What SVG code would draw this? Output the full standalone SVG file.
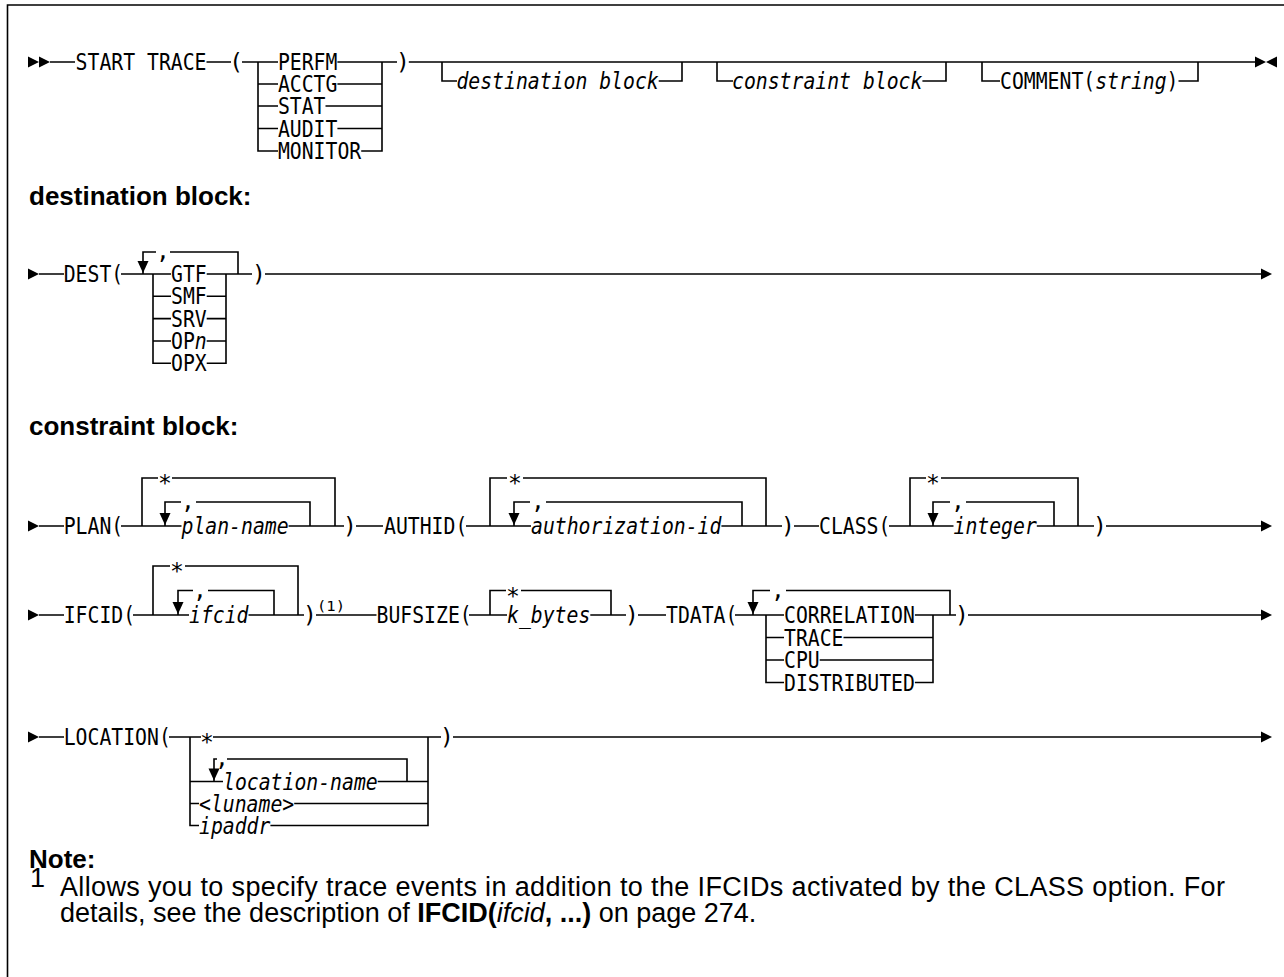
<svg xmlns="http://www.w3.org/2000/svg" xmlns:xlink="http://www.w3.org/1999/xlink" width="1284" height="977" viewBox="0 0 1284 977">
<style>
.m{font-family:"DejaVu Sans Mono","Liberation Mono",monospace;font-size:23px;fill:#000}
.i{font-style:italic}
.c{text-anchor:middle}
.ln{fill:none;stroke:#000;stroke-width:1.6}
.h{font-family:"Liberation Sans",Arial,sans-serif;font-weight:bold;font-size:26px;fill:#000}
.n{font-family:"Liberation Sans",Arial,sans-serif;font-size:27px;fill:#000}
.sup{font-family:"DejaVu Sans Mono",monospace;font-size:14px;fill:#000}
.ah{fill:#000}
</style>
<defs>
<polygon id="tr" points="0,-5.5 11,0 0,5.5"/>
<polygon id="tl" points="11,-5.5 0,0 11,5.5"/>
<polygon id="td" points="-5.5,-12 5.5,-12 0,0"/>
</defs>
<rect width="1284" height="977" fill="#fff"/>
<path class="ln" d="M1284,5 H7.5 V977" stroke="#333" stroke-width="2"/>

<g id="connectors" class="ln">
<!-- row 1 -->
<path d="M50,62 H75 M206.5,62 H231 M242,62 H278 M258,62 V151 H278 M258,84 H278 M258,106 H278 M258,128.5 H278"/>
<path d="M337.4,62 H382 V151 H361.2 M337.4,84 H382 M325.5,106 H382 M337.4,128.5 H382 M382,62 H397 M408.8,62 H1255"/>
<path d="M442,62 V81 H457 M658.7,81 H682 V62 M717,62 V81 H733 M922.4,81 H946 V62 M982,62 V81 H1000 M1178.5,81 H1198 V62"/>
<!-- dest -->
<path d="M39,274 H64 M121,274 H171 M143,274 V252 H156 M170,252 H238 V274 M153,274 V363.3 H171 M153,296.3 H171 M153,318.6 H171 M153,341 H171"/>
<path d="M206.7,274 H252 M226,274 V363.3 H206.7 M206.7,296.3 H226 M206.7,318.6 H226 M206.7,341 H226 M265,274 H1261"/>
<!-- plan -->
<path d="M39,526 H64 M121,526 H181.5 M142,526 V478 H158 M172,478 H335 V526 M165,526 V502 H181 M196,502 H310 V526 M288.6,526 H344 M356,526 H383"/>
<path d="M466,526 H531 M490,526 V478 H507 M523,478 H766 V526 M514,526 V502 H530 M546,502 H742 V526 M721.4,526 H782 M794,526 H819"/>
<path d="M889,526 H953.5 M910,526 V478 H926 M941,478 H1078 V526 M933,526 V502 H950 M966,502 H1054 V526 M1036.8,526 H1094 M1106,526 H1261"/>
<!-- ifcid -->
<path d="M39,615 H64 M133,615 H189 M153,615 V566 H170 M185,566 H298 V615 M178,615 V590.5 H193 M208,590.5 H274 V615 M248.5,615 H304 M316,615 H376.5"/>
<path d="M469,615 H507 M490,615 V590.5 H506 M521,590.5 H611 V615 M590.3,615 H626 M638,615 H666"/>
<path d="M735,615 H784 M753,615 V590.5 H770 M786,590.5 H950 V615 M766,615 V682.5 H784 M766,637.5 H784 M766,660 H784"/>
<path d="M914.9,615 H956 M933,615 V682.5 H914.9 M843.5,637.5 H933 M819.7,660 H933 M968,615 H1261"/>
<!-- location -->
<path d="M39,737 H64 M169,737 H201 M213,737 H441 M453,737 H1261 M190,737 V825.5 H199 M190,781.5 H223 M190,803.5 H199"/>
<path d="M428,737 V825.5 H270.4 M377.7,781.5 H428 M294.2,803.5 H428 M214,781.5 V759 H217 M227,759 H407 V781.5"/>
</g>

<g id="arrowheads" class="ah">
<use xlink:href="#tr" x="28" y="62"/><use xlink:href="#tr" x="39" y="62"/>
<use xlink:href="#tr" x="1255" y="62"/><use xlink:href="#tl" x="1266" y="62"/>
<use xlink:href="#tr" x="28" y="274"/><use xlink:href="#tr" x="1261" y="274"/>
<use xlink:href="#tr" x="28" y="526"/><use xlink:href="#tr" x="1261" y="526"/>
<use xlink:href="#tr" x="28" y="615"/><use xlink:href="#tr" x="1261" y="615"/>
<use xlink:href="#tr" x="28" y="737"/><use xlink:href="#tr" x="1261" y="737"/>
<use xlink:href="#td" x="143" y="273"/>
<use xlink:href="#td" x="165" y="525"/>
<use xlink:href="#td" x="514" y="525"/>
<use xlink:href="#td" x="933" y="525"/>
<use xlink:href="#td" x="178" y="614"/>
<use xlink:href="#td" x="753" y="614"/>
<use xlink:href="#td" x="214" y="780.5"/>
</g>

<g id="start-trace">
<text class="m" x="75.6" y="70" textLength="130.9" lengthAdjust="spacingAndGlyphs">START TRACE</text>
<text class="m c" x="236.3" y="70">(</text>
<text class="m c" x="402.9" y="70">)</text>
</g>
<g id="trace-types">
<text class="m" x="277.9" y="70" textLength="59.5" lengthAdjust="spacingAndGlyphs">PERFM</text>
<text class="m" x="277.9" y="92" textLength="59.5" lengthAdjust="spacingAndGlyphs">ACCTG</text>
<text class="m" x="277.9" y="114" textLength="47.6" lengthAdjust="spacingAndGlyphs">STAT</text>
<text class="m" x="277.9" y="136.5" textLength="59.5" lengthAdjust="spacingAndGlyphs">AUDIT</text>
<text class="m" x="277.9" y="159" textLength="83.3" lengthAdjust="spacingAndGlyphs">MONITOR</text>
</g>
<g id="opt-destination-block"><text class="m i" x="456.4" y="89" textLength="202.3" lengthAdjust="spacingAndGlyphs">destination block</text></g>
<g id="opt-constraint-block"><text class="m i" x="732" y="89" textLength="190.4" lengthAdjust="spacingAndGlyphs">constraint block</text></g>
<g id="opt-comment">
<text class="m" x="1000" y="89" textLength="95.2" lengthAdjust="spacingAndGlyphs">COMMENT(</text>
<text class="m i" x="1095.2" y="89" textLength="71.4" lengthAdjust="spacingAndGlyphs">string</text>
<text class="m" x="1166.6" y="89" textLength="11.9" lengthAdjust="spacingAndGlyphs">)</text>
</g>

<g id="heading-destination"><text class="h" x="29" y="205">destination block:</text></g>
<g id="dest">
<text class="m" x="63.7" y="282" textLength="59.5" lengthAdjust="spacingAndGlyphs">DEST(</text>
<text class="m c" x="163" y="259">,</text>
<text class="m" x="171" y="282" textLength="35.7" lengthAdjust="spacingAndGlyphs">GTF</text>
<text class="m" x="171" y="304.3" textLength="35.7" lengthAdjust="spacingAndGlyphs">SMF</text>
<text class="m" x="171" y="326.6" textLength="35.7" lengthAdjust="spacingAndGlyphs">SRV</text>
<text class="m" x="171" y="349" textLength="23.8" lengthAdjust="spacingAndGlyphs">OP</text>
<text class="m i" x="194.8" y="349" textLength="11.9" lengthAdjust="spacingAndGlyphs">n</text>
<text class="m" x="171" y="371.3" textLength="35.7" lengthAdjust="spacingAndGlyphs">OPX</text>
<text class="m c" x="259" y="282">)</text>
</g>

<g id="heading-constraint"><text class="h" x="29" y="435">constraint block:</text></g>
<g id="plan">
<text class="m" x="63.7" y="534" textLength="59.5" lengthAdjust="spacingAndGlyphs">PLAN(</text>
<text class="m c" x="165" y="491">*</text>
<text class="m c" x="188" y="509">,</text>
<text class="m i" x="181.5" y="534" textLength="107.1" lengthAdjust="spacingAndGlyphs">plan-name</text>
<text class="m c" x="350" y="534">)</text>
</g>
<g id="authid">
<text class="m" x="384" y="534" textLength="83.3" lengthAdjust="spacingAndGlyphs">AUTHID(</text>
<text class="m c" x="515" y="491">*</text>
<text class="m c" x="538" y="509">,</text>
<text class="m i" x="531" y="534" textLength="190.4" lengthAdjust="spacingAndGlyphs">authorization-id</text>
<text class="m c" x="788" y="534">)</text>
</g>
<g id="class">
<text class="m" x="819" y="534" textLength="71.4" lengthAdjust="spacingAndGlyphs">CLASS(</text>
<text class="m c" x="933" y="491">*</text>
<text class="m c" x="958" y="509">,</text>
<text class="m i" x="953.5" y="534" textLength="83.3" lengthAdjust="spacingAndGlyphs">integer</text>
<text class="m c" x="1100" y="534">)</text>
</g>
<g id="ifcid">
<text class="m" x="63.7" y="623" textLength="71.4" lengthAdjust="spacingAndGlyphs">IFCID(</text>
<text class="m c" x="177" y="579">*</text>
<text class="m c" x="200" y="597.5">,</text>
<text class="m i" x="189" y="623" textLength="59.5" lengthAdjust="spacingAndGlyphs">ifcid</text>
<text class="m c" x="310" y="623">)</text>
<text class="sup" x="317" y="611" textLength="28" lengthAdjust="spacingAndGlyphs">(1)</text>
</g>
<g id="bufsize">
<text class="m" x="376.5" y="623" textLength="95.2" lengthAdjust="spacingAndGlyphs">BUFSIZE(</text>
<text class="m c" x="513" y="603.5">*</text>
<text class="m i" x="507" y="623" textLength="83.3" lengthAdjust="spacingAndGlyphs">k_bytes</text>
<text class="m c" x="632" y="623">)</text>
</g>
<g id="tdata">
<text class="m" x="666" y="623" textLength="71.4" lengthAdjust="spacingAndGlyphs">TDATA(</text>
<text class="m c" x="778" y="597.5">,</text>
<text class="m" x="784" y="623" textLength="130.9" lengthAdjust="spacingAndGlyphs">CORRELATION</text>
<text class="m" x="784" y="645.5" textLength="59.5" lengthAdjust="spacingAndGlyphs">TRACE</text>
<text class="m" x="784" y="668" textLength="35.7" lengthAdjust="spacingAndGlyphs">CPU</text>
<text class="m" x="784" y="690.5" textLength="130.9" lengthAdjust="spacingAndGlyphs">DISTRIBUTED</text>
<text class="m c" x="962" y="623">)</text>
</g>
<g id="location">
<text class="m" x="63.7" y="745" textLength="107.1" lengthAdjust="spacingAndGlyphs">LOCATION(</text>
<text class="m c" x="207" y="750">*</text>
<text class="m c" x="222" y="766">,</text>
<text class="m i" x="223" y="789.5" textLength="154.7" lengthAdjust="spacingAndGlyphs">location-name</text>
<text class="m" x="199" y="811.5" textLength="11.9" lengthAdjust="spacingAndGlyphs">&lt;</text>
<text class="m i" x="210.9" y="811.5" textLength="71.4" lengthAdjust="spacingAndGlyphs">luname</text>
<text class="m" x="282.3" y="811.5" textLength="11.9" lengthAdjust="spacingAndGlyphs">&gt;</text>
<text class="m i" x="199" y="833.5" textLength="71.4" lengthAdjust="spacingAndGlyphs">ipaddr</text>
<text class="m c" x="447" y="745">)</text>
</g>

<g id="note">
<text class="h" x="29" y="868">Note:</text>
<text class="n" x="30" y="887" font-size="12">1</text>
<text class="n" x="60" y="896" textLength="1165">Allows you to specify trace events in addition to the IFCIDs activated by the CLASS option. For</text>
<text class="n" x="60" y="922">details, see the description of <tspan font-weight="bold">IFCID(</tspan><tspan font-style="italic">ifcid</tspan><tspan font-weight="bold">, ...)</tspan> on page 274.</text>
</g>
</svg>
